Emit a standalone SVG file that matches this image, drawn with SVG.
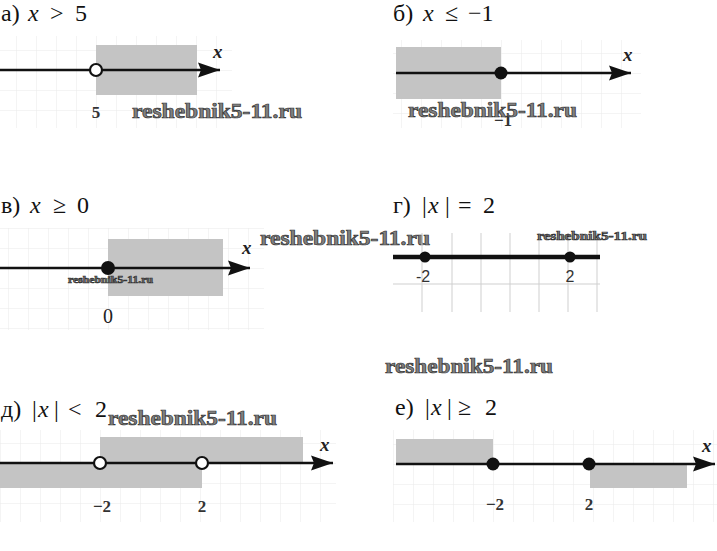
<svg xmlns="http://www.w3.org/2000/svg" width="717" height="551" viewBox="0 0 717 551">
<style>
.t{font-family:"Liberation Serif","Times New Roman",serif;font-size:24px;fill:#111}
.i{font-style:italic}
.ax{font-family:"Liberation Serif",serif;font-style:italic;font-weight:bold;font-size:19px;fill:#222}
.lb{font-family:"Liberation Serif",serif;font-weight:bold;font-size:17px;fill:#333;text-anchor:middle}
.lbs{font-family:"Liberation Sans",Arial,sans-serif;font-size:16px;fill:#333;text-anchor:middle}
.wm{font-family:"Liberation Serif",serif;font-weight:bold;fill:#808080;stroke:#333;stroke-width:0.7}
.sh{fill:#c4c4c4}
.axis{stroke:#111;stroke-width:2.6;fill:none}
.open{fill:#fff;stroke:#111;stroke-width:2.2}
.dot{fill:#111}
.gr{fill:none;stroke:#e9e9e9;stroke-width:1}
</style>
<defs>
<marker id="arr" markerUnits="userSpaceOnUse" markerWidth="24" markerHeight="18" refX="22" refY="9" orient="auto">
<path d="M0,1.5 L22,9 L0,16.5 L3,9 z" fill="#111"/>
</marker>
<pattern id="ga" patternUnits="userSpaceOnUse" x="16" y="10" width="20" height="20"><path d="M0,0 H20 M0,0 V20" class="gr"/></pattern>
<pattern id="gb" patternUnits="userSpaceOnUse" x="1" y="13" width="20" height="20"><path d="M0,0 H20 M0,0 V20" class="gr"/></pattern>
<pattern id="gv" patternUnits="userSpaceOnUse" x="8" y="8" width="20" height="20"><path d="M0,0 H20 M0,0 V20" class="gr"/></pattern>
<pattern id="gd" patternUnits="userSpaceOnUse" x="0" y="3" width="20" height="20"><path d="M0,0 H20 M0,0 V20" class="gr"/></pattern>
<pattern id="ge" patternUnits="userSpaceOnUse" x="13" y="4" width="20" height="20"><path d="M0,0 H20 M0,0 V20" class="gr"/></pattern>
</defs>
<rect width="717" height="551" fill="#fff"/>

<!-- а -->
<g id="panel-a">
<rect x="0" y="36" width="232" height="92" fill="url(#ga)"/>
<text class="t" y="21"><tspan x="1">а)</tspan><tspan x="28" class="i">x</tspan><tspan x="50">&gt;</tspan><tspan x="75">5</tspan></text>
<rect class="sh" x="96" y="45" width="101" height="50"/>
<line class="axis" x1="0" y1="70" x2="220" y2="70" marker-end="url(#arr)"/>
<circle class="open" cx="96" cy="70" r="6"/>
<text class="ax" x="213" y="58">x</text>
<text class="lb" x="96" y="118">5</text>
<text class="wm" x="132" y="118" font-size="21" textLength="170" lengthAdjust="spacingAndGlyphs">reshebnik5-11.ru</text>
</g>

<!-- б -->
<g id="panel-b">
<rect x="393" y="40" width="248" height="88" fill="url(#gb)"/>
<text class="t" y="21"><tspan x="393">б)</tspan><tspan x="423" class="i">x</tspan><tspan x="445">≤</tspan><tspan x="468">−1</tspan></text>
<rect class="sh" x="396" y="47" width="105" height="52"/>
<line class="axis" x1="396" y1="73" x2="631" y2="73" marker-end="url(#arr)"/>
<circle class="dot" cx="501" cy="73" r="6.5"/>
<text class="ax" x="623" y="61">x</text>
<text class="lb" x="503" y="126">−1</text>
<text class="wm" x="408" y="117" font-size="21" textLength="169" lengthAdjust="spacingAndGlyphs">reshebnik5-11.ru</text>
</g>

<!-- в -->
<g id="panel-v">
<rect x="0" y="228" width="264" height="102" fill="url(#gv)"/>
<text class="t" y="213"><tspan x="1">в)</tspan><tspan x="30" class="i">x</tspan><tspan x="53">≥</tspan><tspan x="77">0</tspan></text>
<rect class="sh" x="108" y="239" width="115" height="57"/>
<line class="axis" x1="0" y1="268" x2="250" y2="268" marker-end="url(#arr)"/>
<circle class="dot" cx="108" cy="268" r="7"/>
<text class="ax" x="242" y="254">x</text>
<text x="108" y="323" font-family="Liberation Serif,serif" font-size="20" fill="#222" text-anchor="middle">0</text>
<text class="wm" x="68" y="283" font-size="10" stroke-width="0.3" textLength="85" lengthAdjust="spacingAndGlyphs">reshebnik5-11.ru</text>
</g>

<text class="wm" x="260" y="245" font-size="21" textLength="170" lengthAdjust="spacingAndGlyphs">reshebnik5-11.ru</text>

<!-- г -->
<g id="panel-g">
<g stroke="#cfcfcf" stroke-width="1">
<line x1="422" y1="233" x2="422" y2="312"/>
<line x1="452" y1="233" x2="452" y2="312"/>
<line x1="481" y1="233" x2="481" y2="312"/>
<line x1="510" y1="233" x2="510" y2="312"/>
<line x1="539" y1="233" x2="539" y2="312"/>
<line x1="568" y1="233" x2="568" y2="312"/>
<line x1="597" y1="233" x2="597" y2="312"/>
<line x1="393" y1="284" x2="600" y2="284"/>
</g>
<text class="t" y="213"><tspan x="393">г)</tspan><tspan x="422">|</tspan><tspan x="428" class="i">x</tspan><tspan x="445">|</tspan><tspan x="458">=</tspan><tspan x="483">2</tspan></text>
<line x1="393" y1="257" x2="600" y2="257" stroke="#111" stroke-width="4.5"/>
<circle class="dot" cx="425" cy="257" r="5.5"/>
<circle class="dot" cx="570" cy="257" r="5.5"/>
<text class="lbs" x="423" y="282">-2</text>
<text class="lbs" x="570" y="282">2</text>
<text class="wm" x="537" y="240" font-size="12" stroke-width="0.4" textLength="110" lengthAdjust="spacingAndGlyphs">reshebnik5-11.ru</text>
</g>

<text class="wm" x="385" y="373" font-size="21" textLength="168" lengthAdjust="spacingAndGlyphs">reshebnik5-11.ru</text>

<!-- д -->
<g id="panel-d">
<rect x="0" y="430" width="336" height="92" fill="url(#gd)"/>
<text class="t" y="417"><tspan x="1">д)</tspan><tspan x="32">|</tspan><tspan x="38" class="i">x</tspan><tspan x="54">|</tspan><tspan x="68">&lt;</tspan><tspan x="95">2</tspan></text>
<rect class="sh" x="100" y="437" width="203" height="26"/>
<rect class="sh" x="0" y="463" width="202" height="25"/>
<line class="axis" x1="0" y1="463" x2="333" y2="463" marker-end="url(#arr)"/>
<circle class="open" cx="100" cy="463" r="6"/>
<circle class="open" cx="202" cy="463" r="6"/>
<text class="ax" x="320" y="451">x</text>
<text class="lb" x="102" y="512">−2</text>
<text class="lb" x="202" y="512">2</text>
<text class="wm" x="108" y="425" font-size="21" textLength="169" lengthAdjust="spacingAndGlyphs">reshebnik5-11.ru</text>
</g>

<!-- е -->
<g id="panel-e">
<rect x="393" y="430" width="324" height="92" fill="url(#ge)"/>
<text class="t" y="415"><tspan x="395">е)</tspan><tspan x="425">|</tspan><tspan x="431" class="i">x</tspan><tspan x="447">|</tspan><tspan x="458">≥</tspan><tspan x="485">2</tspan></text>
<rect class="sh" x="396" y="439" width="97" height="25"/>
<rect class="sh" x="590" y="464" width="97" height="24"/>
<line class="axis" x1="396" y1="464" x2="715" y2="464" marker-end="url(#arr)"/>
<circle class="dot" cx="493" cy="464" r="6.5"/>
<circle class="dot" cx="589" cy="464" r="6.5"/>
<text class="ax" x="702" y="452">x</text>
<text class="lb" x="495" y="510">−2</text>
<text class="lb" x="589" y="510">2</text>
</g>
</svg>
